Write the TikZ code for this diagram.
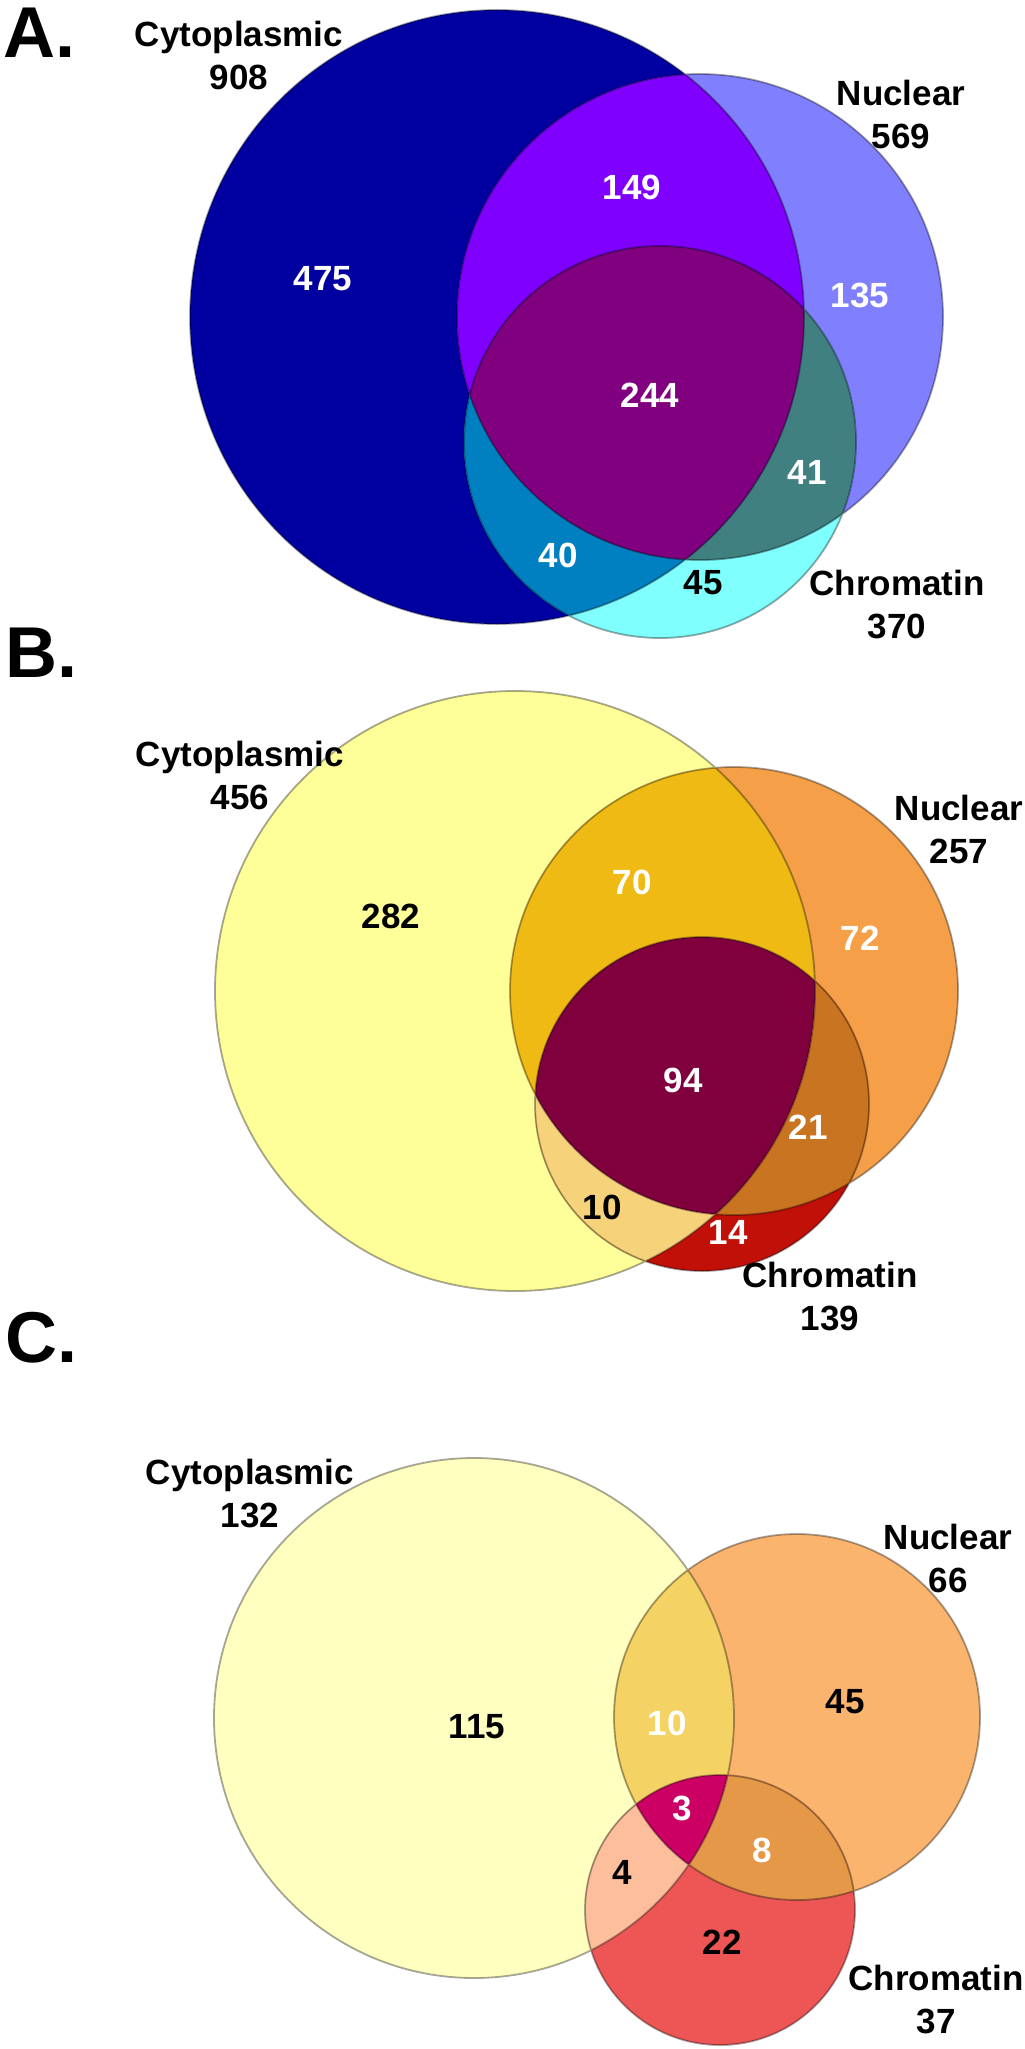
\documentclass[tikz,border=0pt]{standalone}
\usepackage{fontspec}
\setmainfont{Liberation Sans}

\definecolor{Acyt}{RGB}{0,0,160}
\definecolor{Anuc}{RGB}{128,128,255}
\definecolor{Achr}{RGB}{128,255,255}
\definecolor{Acn}{RGB}{128,0,255}
\definecolor{Acc}{RGB}{0,128,192}
\definecolor{Anc}{RGB}{64,128,128}
\definecolor{Aall}{RGB}{128,0,128}

\definecolor{Bcyt}{RGB}{255,255,153}
\definecolor{Bnuc}{RGB}{245,160,72}
\definecolor{Bchr}{RGB}{192,16,8}
\definecolor{Bcn}{RGB}{240,186,20}
\definecolor{Bcc}{RGB}{246,210,122}
\definecolor{Bnc}{RGB}{200,116,32}
\definecolor{Ball}{RGB}{128,0,62}

\definecolor{Ccyt}{RGB}{255,255,192}
\definecolor{Cnuc}{RGB}{250,180,110}
\definecolor{Cchr}{RGB}{238,86,86}
\definecolor{Ccn}{RGB}{245,210,100}
\definecolor{Ccc}{RGB}{252,190,155}
\definecolor{Cnc}{RGB}{228,152,72}
\definecolor{Call}{RGB}{204,0,100}

% #1 colour prefix, #2 cytoplasmic, #3 nuclear, #4 chromatin
\newcommand\vennfill[4]{%
  \fill[#1cyt] #2; \fill[#1nuc] #3; \fill[#1chr] #4;
  \begin{scope}\clip #3; \fill[#1nc] #4;\end{scope}
  \begin{scope}\clip #2; \fill[#1cn] #3; \fill[#1cc] #4; \clip #3; \fill[#1all] #4;\end{scope}
  \draw[ring] #2 #3 #4;
}

\tikzset{
  ring/.style={draw=black, draw opacity=.35, line width=.9pt},
  panel/.style={anchor=base west, inner sep=0pt, font=\fontsize{36}{40}\selectfont\bfseries},
  setname/.style={align=center, inner sep=0pt, font=\fontsize{17.5}{21.5}\selectfont\bfseries},
  num/.style={inner sep=0pt, text=white, font=\fontsize{17.5}{20}\selectfont\bfseries},
  numd/.style={num, text=black}
}

\begin{document}
\begin{tikzpicture}[x=.5pt, y=-.5pt]
\useasboundingbox (0,0) rectangle (1024,2049);

\begin{scope}
    \vennfill{A}{(497,317) circle (307)}{(700,317) circle (243)}{(660,442) circle (196)}
    \node[panel] (pA) at (3,58) {A.};
    \node[setname] (cytA) at (239,55) {Cytoplasmic\\908};
    \node[setname] (nucA) at (901,114) {Nuclear\\569};
    \node[setname] (chrA) at (897,605) {Chromatin\\370};
    \node[num] (a475) at (323,279) {475};
    \node[num] (a149) at (632,187) {149};
    \node[num] (a135) at (860,295) {135};
    \node[num] (a244) at (650,395) {244};
    \node[num] (a41) at (807,472) {41};
    \node[num] (a40) at (558,555) {40};
    \node[numd] (a45) at (703,583) {45};
\end{scope}

\begin{scope}
    \vennfill{B}{(515,991) circle (300)}{(734,991) circle (224)}{(702,1104) circle (167)}
    \node[panel] (pB) at (5,677) {B.};
    \node[setname] (cytB) at (240,775) {Cytoplasmic\\456};
    \node[setname] (nucB) at (959,829) {Nuclear\\257};
    \node[setname] (chrB) at (830,1297) {Chromatin\\139};
    \node[numd] (b282) at (391,916) {282};
    \node[num] (b70) at (632,882) {70};
    \node[num] (b72) at (860,938) {72};
    \node[num] (b94) at (683,1080) {94};
    \node[num] (b21) at (808,1127) {21};
    \node[numd] (b10) at (602,1207) {10};
    \node[num] (b14) at (728,1232) {14};
\end{scope}

\begin{scope}
    \vennfill{C}{(474,1718) circle (260)}{(797,1717) circle (183)}{(720,1910) circle (135)}
    \node[panel] (pC) at (5,1362) {C.};
    \node[setname] (cytC) at (250,1493) {Cytoplasmic\\132};
    \node[setname] (nucC) at (948,1558) {Nuclear\\66};
    \node[setname] (chrC) at (936,1999) {Chromatin\\37};
    \node[numd] (c115) at (477,1727) {115};
    \node[num] (c10) at (667,1723) {10};
    \node[numd] (c45) at (845,1702) {45};
    \node[num] (c3) at (682,1808) {3};
    \node[num] (c8) at (762,1850) {8};
    \node[numd] (c4) at (622,1872) {4};
    \node[numd] (c22) at (722,1942) {22};
\end{scope}
\end{tikzpicture}
\end{document}
